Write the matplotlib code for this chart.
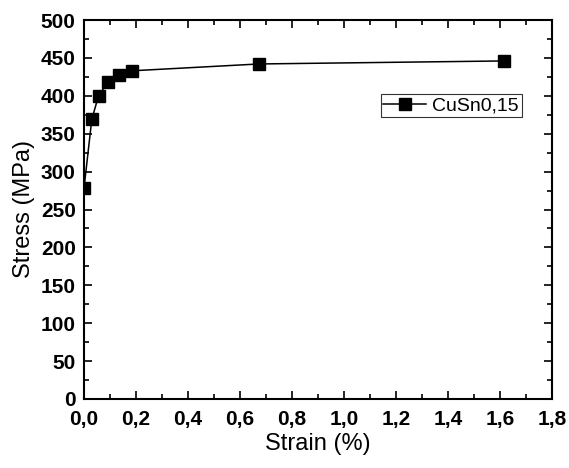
import matplotlib
matplotlib.use("Agg")
import matplotlib.pyplot as plt
from matplotlib.ticker import MultipleLocator, FuncFormatter

plt.rcParams['font.family'] = ['Liberation Sans', 'DejaVu Sans']

strain = [0.0, 0.03, 0.056, 0.091, 0.133, 0.185, 0.673, 1.617]
stress = [278, 369, 400, 418, 427, 433, 442, 446]
label = "CuSn0,15"

fig = plt.figure(figsize=(5.69, 4.68), dpi=100)
ax = fig.add_axes([84/569, 69/468, 468/569, 379/468])

ax.plot(strain, stress, color='black', lw=1.1, marker='s', ms=8.5,
        mfc='black', mec='black', label=label)

ax.set_xlim(0, 1.8)
ax.set_ylim(0, 500)
ax.xaxis.set_major_locator(MultipleLocator(0.2))
ax.xaxis.set_minor_locator(MultipleLocator(0.1))
ax.yaxis.set_major_locator(MultipleLocator(50))
ax.yaxis.set_minor_locator(MultipleLocator(25))
ax.xaxis.set_major_formatter(FuncFormatter(lambda v, p: f"{v:.1f}".replace('.', ',')))
ax.yaxis.set_major_formatter(FuncFormatter(lambda v, p: f"{v:.0f}"))

ax.tick_params(which='both', direction='in', top=True, right=True, width=1.2)
ax.tick_params(which='major', length=6, labelsize=15)
ax.tick_params(axis='x', which='major', pad=8)
ax.tick_params(axis='y', which='major', pad=6)
ax.tick_params(which='minor', length=3.5)
for lab in ax.get_xticklabels() + ax.get_yticklabels():
    lab.set_fontweight('bold')
for sp in ax.spines.values():
    sp.set_linewidth(1.5)

ax.set_xlabel("Strain (%)", fontsize=17, labelpad=3)
ax.set_ylabel("Stress (MPa)", fontsize=17, labelpad=4)

leg = ax.legend(loc='upper right', bbox_to_anchor=(0.935, 0.805), fontsize=14,
                frameon=True, fancybox=False, edgecolor='black',
                handlelength=2.2, borderpad=0.15, handletextpad=0.3,
                borderaxespad=0)
leg.get_frame().set_linewidth(0.8)

fig.savefig("out.png", dpi=100)
